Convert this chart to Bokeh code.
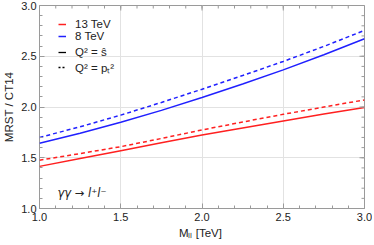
import math
from bokeh.plotting import figure
from bokeh.models import Range1d, Legend, LegendItem, Label, FixedTicker
from bokeh.embed import file_html
from bokeh.resources import INLINE

mll = [1.0, 1.25, 1.5, 1.75, 2.0, 2.25, 2.5, 2.75, 3.0]
r13_shat = [1.415, 1.493, 1.570, 1.647, 1.724, 1.794, 1.862, 1.930, 1.995]
r13_pt = [1.476, 1.541, 1.609, 1.690, 1.774, 1.852, 1.928, 2.000, 2.070]
r8_shat = [1.642, 1.742, 1.849, 1.967, 2.093, 2.226, 2.366, 2.515, 2.672]
r8_pt = [1.700, 1.805, 1.920, 2.045, 2.175, 2.310, 2.449, 2.597, 2.755]

x_ticks = [1.0, 1.5, 2.0, 2.5, 3.0]
y_ticks = [1.0, 1.5, 2.0, 2.5, 3.0]
x_minor = [round(1.0 + 0.1 * i, 2) for i in range(21)]
y_minor = [round(1.0 + 0.1 * i, 2) for i in range(21)]

RED = "#ff2020"
BLUE = "#2020ff"
GRAY = "#9a9a9a"
TXT = "#222222"
FONT = "Liberation Sans"

p = figure(frame_width=325, frame_height=203, output_backend="svg", toolbar_location=None,
           x_range=Range1d(1.0, 3.0), y_range=Range1d(1.0, 3.0),
           min_border_left=0, min_border_right=8, min_border_top=5, min_border_bottom=0,
           x_axis_label="M\u2097\u2097  [TeV]", y_axis_label="MRST / CT14")
p.outline_line_color = GRAY

p.line(mll, r13_shat, line_color=RED, line_width=1.5)
p.line(mll, r13_pt, line_color=RED, line_width=1.5, line_dash="4 3")
p.line(mll, r8_shat, line_color=BLUE, line_width=1.5)
p.line(mll, r8_pt, line_color=BLUE, line_width=1.5, line_dash="4 3")

# ticks on the top and right frame edges
p.ray(x=[3.0] * len(y_minor), y=y_minor, length=3, length_units="screen", angle=math.pi,
      line_color=GRAY, line_width=1)
p.ray(x=[3.0] * len(y_ticks), y=y_ticks, length=5, length_units="screen", angle=math.pi,
      line_color=GRAY, line_width=1)
p.ray(x=x_minor, y=[3.0] * len(x_minor), length=3, length_units="screen", angle=-math.pi / 2,
      line_color=GRAY, line_width=1)
p.ray(x=x_ticks, y=[3.0] * len(x_ticks), length=5, length_units="screen", angle=-math.pi / 2,
      line_color=GRAY, line_width=1)

# legend sample renderers (drawn outside the visible range)
d1 = p.line([0, 0.5], [0, 0], line_color=RED, line_width=1.5)
d2 = p.line([0, 0.5], [0, 0], line_color=BLUE, line_width=1.5)
d3 = p.line([0, 0.5], [0, 0], line_color="black", line_width=1.3)
d4 = p.line([0, 0.5], [0, 0], line_color="black", line_width=1.3, line_dash="2 2")

leg_items = [("13 TeV", d1, 176), ("8 TeV", d2, 164), ("Q\u00b2 = \u015d", d3, 148),
             ("Q\u00b2 = p\u209c\u00b2", d4, 133)]
for lab, r, ybot in leg_items:
    lg = Legend(items=[LegendItem(label=lab, renderers=[r])], location=(19, ybot),
                margin=0, padding=0, border_line_alpha=0, background_fill_alpha=0,
                glyph_width=8, glyph_height=16, label_height=16, spacing=0,
                label_standoff=9, label_text_font=FONT, label_text_font_size="11.5px",
                label_text_color=TXT)
    p.add_layout(lg)

p.add_layout(Label(x=1.11, y=1.15, text="\u03b3\u03b3 \u2192 l\u207al\u207b", text_font="DejaVu Sans",
                   text_font_style="italic", text_font_size="11.5px", text_baseline="middle",
                   text_color=TXT))

for ax in [p.xaxis[0], p.yaxis[0]]:
    ax.axis_line_color = None
    ax.major_tick_in = 5
    ax.major_tick_out = 0
    ax.minor_tick_in = 3
    ax.minor_tick_out = 0
    ax.major_tick_line_color = GRAY
    ax.minor_tick_line_color = GRAY
    ax.major_label_text_font = FONT
    ax.major_label_text_font_size = "11px"
    ax.major_label_text_color = TXT
    ax.axis_label_text_font = FONT
    ax.axis_label_text_font_size = "11.5px"
    ax.axis_label_text_font_style = "normal"
    ax.axis_label_text_color = TXT
    ax.axis_label_standoff = 3
    ax.major_label_standoff = 3

p.xaxis[0].major_label_standoff = 4
p.xaxis[0].ticker = FixedTicker(ticks=x_ticks, minor_ticks=x_minor)
p.yaxis[0].ticker = FixedTicker(ticks=y_ticks, minor_ticks=y_minor)
p.xaxis[0].major_label_overrides = {1.0: "1.0", 2.0: "2.0", 3.0: "3.0"}
p.yaxis[0].major_label_overrides = {1.0: "1.0", 2.0: "2.0", 3.0: "3.0"}

p.xgrid.ticker = FixedTicker(ticks=x_ticks)
p.ygrid.ticker = FixedTicker(ticks=y_ticks)
p.grid.grid_line_color = "#e2e2e2"
p.grid.grid_line_width = 1

open("out.html", "w").write(file_html(p, INLINE))
